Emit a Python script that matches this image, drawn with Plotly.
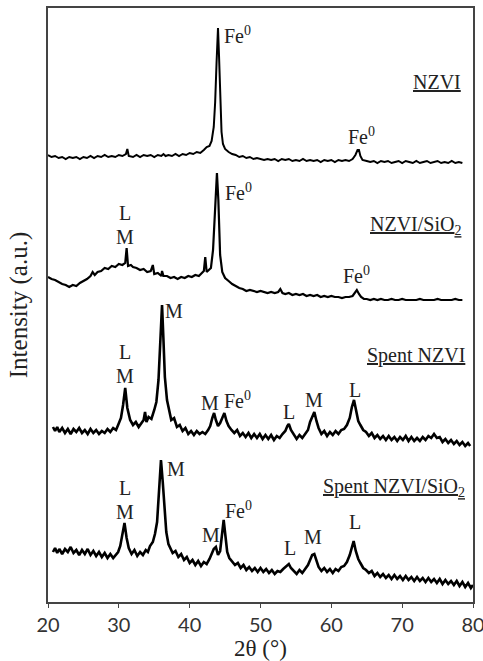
import plotly.graph_objects as go

# XRD patterns, stacked (intensity in arbitrary offset units), 2θ in degrees
nzvi = [(20.0,447),(20.5,445),(21.0,446),(21.5,444),(22.0,445),(22.5,443),(23.0,445),(23.5,444),(24.0,445),(24.5,443),
        (25.0,445),(25.5,444),(26.0,446),(26.5,444),(27.0,446),(27.5,445),(28.0,447),(28.5,445),(29.0,446),(29.5,445),
        (30.0,447),(30.5,446),(31.0,448),(31.2,453),(31.4,446),(32.0,445),(32.5,447),(33.0,445),(33.5,447),(34.0,446),
        (34.5,447),(35.0,445),(35.5,447),(36.0,446),(36.3,448),(36.6,446),(37.0,447),(37.5,446),(38.0,448),(38.5,446),
        (39.0,448),(39.5,447),(40.0,449),(40.5,448),(41.0,450),(41.5,449),(42.0,452),(42.4,455),(42.8,456),(43.1,461),
        (43.4,475),(43.6,500),(43.8,540),(44.0,574),(44.15,545),(44.3,500),(44.5,470),(44.7,458),(45.0,453),(45.5,450),
        (46.0,448),(46.5,447),(47.0,445),(47.5,446),(48.0,444),(48.5,445),(49.0,443),(49.5,444),(50.0,443),(50.5,442),
        (51.0,443),(51.5,442),(52.0,443),(52.5,441),(53.0,443),(53.5,442),(54.0,443),(54.5,441),(55.0,442),(55.5,441),
        (56.0,443),(56.5,441),(57.0,442),(57.5,441),(58.0,442),(58.5,440),(59.0,442),(59.5,441),(60.0,442),(60.5,440),
        (61.0,442),(61.5,441),(62.0,442),(62.5,441),(63.0,443),(63.4,447),(63.7,452),(63.9,452),(64.1,446),(64.4,442),
        (65.0,441),(65.5,440),(66.0,441),(66.5,439),(67.0,441),(67.5,440),(68.0,441),(68.5,439),(69.0,440),(69.5,441),
        (70.0,439),(70.5,441),(71.0,440),(71.5,439),(72.0,441),(72.5,439),(73.0,440),(73.5,441),(74.0,439),(74.5,440),
        (75.0,441),(75.5,439),(76.0,440),(76.5,439),(77.0,441),(77.5,439),(78.0,440),(78.5,439)]

nzvi_sio2 = [(20.0,325),(20.5,323),(21.0,322),(21.5,320),(22.0,318),(22.5,317),(23.0,315),(23.5,317),(24.0,316),(24.5,319),
             (25.0,321),(25.5,323),(26.0,326),(26.3,330),(26.6,327),(27.0,330),(27.5,331),(28.0,334),(28.5,333),(29.0,336),
             (29.5,335),(30.0,338),(30.5,337),(30.9,339),(31.1,354),(31.3,336),(31.7,337),(32.0,335),(32.5,334),(33.0,332),
             (33.5,333),(34.0,330),(34.5,331),(34.8,337),(35.0,328),(35.5,329),(36.0,326),(36.1,331),(36.3,326),(36.8,326),
             (37.3,324),(37.8,325),(38.3,323),(38.8,325),(39.3,324),(39.8,326),(40.3,325),(40.8,327),(41.3,326),(41.8,329),
             (42.0,331),(42.2,345),(42.4,330),(42.7,332),(43.0,334),(43.3,352),(43.6,392),(43.85,429),(44.05,402),(44.3,347),
             (44.6,330),(45.0,324),(45.5,321),(46.0,318),(46.5,316),(47.0,314),(47.5,313),(48.0,311),(48.5,312),(49.0,311),
             (49.5,310),(50.0,311),(50.5,310),(51.0,309),(51.5,310),(52.0,309),(52.5,310),(52.8,313),(53.1,309),(53.5,308),
             (54.0,309),(54.5,307),(55.0,308),(55.5,307),(56.0,308),(56.5,306),(57.0,307),(57.5,306),(58.0,307),(58.5,305),
             (59.0,306),(59.5,305),(60.0,306),(60.5,305),(61.0,305),(61.5,304),(62.0,305),(62.5,305),(63.0,306),(63.3,309),
             (63.6,312),(63.9,308),(64.2,305),(64.6,303),(65.0,303),(65.5,302),(66.0,303),(66.5,302),(67.0,303),(67.5,302),
             (68.0,302),(68.5,303),(69.0,302),(69.5,302),(70.0,303),(70.5,302),(71.0,302),(71.5,302),(72.0,302),(72.5,303),
             (73.0,302),(73.5,302),(74.0,302),(74.5,302),(75.0,303),(75.5,302),(76.0,302),(76.5,302),(77.0,302),(77.5,303),
             (78.0,302),(78.5,302)]

spent_nzvi = [(20.7,175),(21.0,171),(21.3,175),(21.6,170),(22.0,174),(22.4,169),(22.8,173),(23.2,168),(23.6,173),(24.0,170),
              (24.4,174),(24.8,169),(25.2,172),(25.6,168),(26.0,173),(26.4,169),(26.8,172),(27.2,168),(27.6,171),(28.0,169),
              (28.4,173),(28.8,170),(29.2,174),(29.6,172),(29.9,177),(30.3,184),(30.6,197),(30.9,214),(31.2,194),(31.6,182),
              (32.0,177),(32.4,180),(32.8,175),(33.2,179),(33.5,182),(33.7,190),(33.9,180),(34.2,185),(34.6,183),(35.0,192),
              (35.3,200),(35.6,222),(35.85,255),(36.1,297),(36.3,262),(36.5,225),(36.8,202),(37.1,190),(37.4,182),(37.8,184),
              (38.2,175),(38.6,177),(39.0,171),(39.4,174),(39.8,168),(40.2,171),(40.6,167),(41.0,171),(41.4,168),(41.8,170),
              (42.2,168),(42.6,172),(42.9,176),(43.2,184),(43.45,189),(43.7,182),(44.0,176),(44.3,179),(44.6,184),(44.9,189),
              (45.2,181),(45.5,176),(45.9,172),(46.3,169),(46.7,172),(47.1,166),(47.5,169),(47.9,165),(48.3,169),(48.7,164),
              (49.1,168),(49.5,164),(49.9,168),(50.3,163),(50.7,167),(51.1,163),(51.5,167),(51.9,162),(52.3,166),(52.7,164),
              (53.1,168),(53.5,171),(53.8,176),(54.0,178),(54.3,172),(54.7,167),(55.1,163),(55.5,167),(55.9,164),(56.3,168),
              (56.7,172),(57.0,180),(57.3,186),(57.6,190),(57.9,181),(58.2,174),(58.6,168),(59.0,171),(59.4,166),(59.8,170),
              (60.2,167),(60.6,171),(61.0,168),(61.4,172),(61.8,173),(62.2,177),(62.6,184),(62.9,195),(63.2,202),(63.5,191),
              (63.8,181),(64.1,177),(64.5,172),(64.9,170),(65.3,166),(65.7,169),(66.1,164),(66.5,167),(66.9,163),(67.3,166),
              (67.7,162),(68.1,166),(68.5,162),(68.9,165),(69.3,161),(69.7,165),(70.1,162),(70.5,166),(70.9,161),(71.3,165),
              (71.7,161),(72.1,164),(72.5,161),(72.9,165),(73.3,162),(73.7,166),(74.1,164),(74.5,168),(74.9,164),(75.3,165),
              (75.7,160),(76.1,163),(76.5,159),(76.9,162),(77.3,158),(77.7,161),(78.1,157),(78.5,160),(78.9,156),(79.3,159),
              (79.6,156)]

spent_nzvi_sio2 = [(20.7,50),(21.0,54),(21.3,49),(21.6,53),(22.0,48),(22.4,53),(22.8,50),(23.2,55),(23.6,49),(24.0,52),
                   (24.4,47),(24.8,52),(25.2,48),(25.6,53),(26.0,47),(26.4,51),(26.8,46),(27.2,50),(27.6,45),(28.0,49),
                   (28.4,44),(28.8,48),(29.2,44),(29.6,47),(29.9,50),(30.2,56),(30.5,67),(30.8,79),(31.1,64),(31.4,54),
                   (31.8,48),(32.2,52),(32.6,46),(33.0,50),(33.4,47),(33.8,52),(34.1,50),(34.4,56),(34.8,60),(35.1,68),
                   (35.4,80),(35.65,105),(35.95,142),(36.2,120),(36.45,90),(36.7,70),(37.0,58),(37.3,54),(37.6,49),(38.0,51),
                   (38.4,45),(38.8,48),(39.2,42),(39.6,45),(40.0,39),(40.4,42),(40.8,37),(41.2,41),(41.6,36),(42.0,40),
                   (42.4,38),(42.8,43),(43.1,49),(43.4,53),(43.7,55),(44.0,47),(44.3,51),(44.55,66),(44.8,82),(45.05,66),
                   (45.3,50),(45.6,44),(46.0,40),(46.4,37),(46.8,39),(47.2,34),(47.6,37),(48.0,32),(48.4,35),(48.8,31),
                   (49.2,34),(49.6,30),(50.0,34),(50.4,30),(50.8,33),(51.2,29),(51.6,32),(52.0,28),(52.4,31),(52.8,30),
                   (53.2,33),(53.6,36),(54.0,38),(54.3,34),(54.7,31),(55.1,28),(55.5,32),(55.9,29),(56.3,33),(56.7,37),
                   (57.0,42),(57.3,47),(57.6,48),(57.9,41),(58.2,35),(58.6,31),(59.0,34),(59.4,30),(59.8,33),(60.2,29),
                   (60.6,33),(61.0,31),(61.4,35),(61.8,36),(62.2,40),(62.6,47),(62.9,56),(63.15,61),(63.45,51),(63.8,43),
                   (64.1,39),(64.5,34),(64.9,32),(65.3,29),(65.7,31),(66.1,26),(66.5,29),(66.9,25),(67.3,28),(67.7,24),
                   (68.1,27),(68.5,23),(68.9,27),(69.3,23),(69.7,26),(70.1,22),(70.5,26),(70.9,22),(71.3,25),(71.7,21),
                   (72.1,25),(72.5,21),(72.9,24),(73.3,20),(73.7,24),(74.1,20),(74.5,23),(74.9,19),(75.3,23),(75.7,18),
                   (76.1,22),(76.5,18),(76.9,21),(77.3,17),(77.7,21),(78.1,16),(78.5,20),(78.9,15),(79.3,19),(79.7,14),
                   (80.0,17)]

x_ticks = [20, 30, 40, 50, 60, 70, 80]

# peak labels: (text, x, y, xanchor)
peak_labels = [
    ("Fe<sup>0</sup>", 44.57, 567, "left"), ("Fe<sup>0</sup>", 64.2, 466, "center"),
    ("L", 30.9, 389, "center"), ("M", 30.9, 365, "center"),
    ("Fe<sup>0</sup>", 44.7, 410, "left"), ("Fe<sup>0</sup>", 63.6, 327, "center"),
    ("L", 30.9, 250, "center"), ("M", 30.9, 226, "center"), ("M", 36.24, 291, "left"),
    ("M", 42.9, 199, "center"), ("Fe<sup>0</sup>", 44.57, 202, "left"),
    ("L", 54.0, 190, "center"), ("M", 57.55, 202, "center"), ("L", 63.35, 212, "center"),
    ("L", 30.9, 114, "center"), ("M", 30.9, 90, "center"), ("M", 36.5, 133, "left"),
    ("M", 43.0, 67, "center"), ("Fe<sup>0</sup>", 44.7, 92, "left"),
    ("L", 54.2, 54, "center"), ("M", 57.4, 65, "center"), ("L", 63.35, 80, "center"),
]
sample_labels = [
    ("<u>NZVI</u>", 78.6, 520),
    ("<u>NZVI/SiO<sub>2</sub></u>", 78.6, 377),
    ("<u>Spent NZVI</u>", 79.15, 247),
    ("<u>Spent NZVI/SiO<sub>2</sub></u>", 79.15, 115),
]

SERIF = "Liberation Serif"

fig = go.Figure()
for series, w in ((nzvi, 2.0), (nzvi_sio2, 2.2), (spent_nzvi, 2.6), (spent_nzvi_sio2, 2.6)):
    xs, ys = zip(*series)
    fig.add_trace(go.Scatter(x=list(xs), y=list(ys), mode="lines",
                             line=dict(color="black", width=w), showlegend=False, hoverinfo="skip"))

ann = []
for t, x, y, xa in peak_labels:
    ann.append(dict(text=t, x=x, y=y, xref="x", yref="y", showarrow=False, xanchor=xa, yanchor="middle",
                    font=dict(family=SERIF, size=20, color="#222")))
for t, x, y in sample_labels:
    ann.append(dict(text=t, x=x, y=y, xref="x", yref="y", showarrow=False, xanchor="right", yanchor="middle",
                    font=dict(family=SERIF, size=20, color="#222")))

fig.update_layout(
    width=483, height=661,
    margin=dict(l=48, r=10, t=8, b=59, autoexpand=False),
    paper_bgcolor="white", plot_bgcolor="white",
    font=dict(family=SERIF, color="#222"),
    annotations=ann,
    xaxis=dict(range=[20, 80], tickvals=x_ticks, ticktext=[str(v) for v in x_ticks],
               showgrid=False, zeroline=False, showline=True, mirror=True, automargin=False,
               linecolor="#444", linewidth=1.5, ticks="outside", ticklen=4, tickcolor="#444",
               ticklabeloverflow="allow",
               tickfont=dict(family="Lato", size=20, color="#333"),
               title=dict(text="2θ (°)", font=dict(family=SERIF, size=23, color="#222"), standoff=2)),
    yaxis=dict(range=[0, 594], showticklabels=False, ticks="", showgrid=False, zeroline=False,
               showline=True, mirror=True, linecolor="#444", linewidth=1.5, automargin=False,
               title=dict(text="Intensity (a.u.)", font=dict(family=SERIF, size=25, color="#222"), standoff=12)),
)

fig.write_html("out.html")
